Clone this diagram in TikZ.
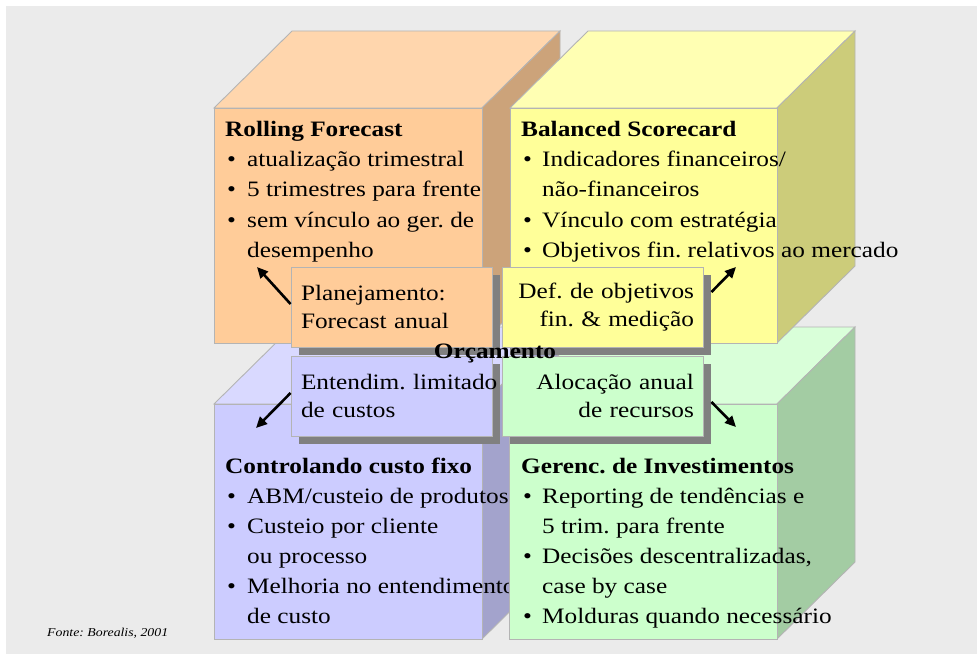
\documentclass[tikz,border=0pt]{standalone}
\usepackage{fontspec}
\setmainfont{Liberation Serif}[FakeStretch=1.15]
\usetikzlibrary{shadows,arrows.meta}
\definecolor{bgc}{HTML}{EBEBEB}
\definecolor{edgec}{HTML}{B4B4B4}
\definecolor{shadc}{HTML}{808080}
\definecolor{ortop}{HTML}{FFD6AD}
\definecolor{orfront}{HTML}{FFCC99}
\definecolor{orside}{HTML}{CCA37A}
\definecolor{yetop}{HTML}{FFFFB3}
\definecolor{yefront}{HTML}{FFFF99}
\definecolor{yeside}{HTML}{CCCC7A}
\definecolor{putop}{HTML}{D9D9FF}
\definecolor{pufront}{HTML}{CCCCFF}
\definecolor{puside}{HTML}{A3A3CC}
\definecolor{grtop}{HTML}{D9FFD9}
\definecolor{grfront}{HTML}{CCFFCC}
\definecolor{grside}{HTML}{A3CCA3}
\newcommand\drawcube[5]{%
  \filldraw[edgeline, fill=#5top] (#1,#2) -- ++(78,-77) -- ++(#3-#1,0) -- (#3,#2) -- cycle;
  \filldraw[edgeline, fill=#5side] (#3,#2) -- ++(78,-77) -- ++(0,#4-#2) -- (#3,#4) -- cycle;
  \filldraw[edgeline, fill=#5front] (#1,#2) rectangle (#3,#4);
}
\frenchspacing
\begin{document}
\begin{tikzpicture}[x=1pt,y=-1pt,
  edgeline/.style={draw=edgec, line width=0.9pt, line join=miter},
  txt/.style={anchor=base west, inner sep=0pt, font=\fontsize{22}{26}\selectfont},
  ttl/.style={anchor=base west, inner sep=0pt, font=\fontsize{22}{26}\selectfont\bfseries},
  bul/.style={anchor=base west, inner sep=0pt, font=\fontsize{22}{26}\selectfont},
  cbox/.style={draw=edgec, line width=0.9pt, minimum width=201pt, minimum height=80pt,
    inner ysep=0pt, font=\fontsize{22}{28.5}\selectfont,
    drop shadow={shadow xshift=8pt, shadow yshift=-8pt, fill=shadc, opacity=1}},
  lbox/.style={cbox, align=left, inner xsep=10pt, text width=181pt},
  rbox/.style={cbox, align=right, inner xsep=9pt, text width=183pt},
  arr/.style={line width=2.6pt, -{Triangle[length=11pt,width=10pt]}}
]
\useasboundingbox (0,0) rectangle (977,655);
\fill[white] (0,0) rectangle (977,655);
\fill[bgc] (6,6) rectangle (977,654);

% bottom-left cube (purple)
\drawcube{214}{404}{482}{639}{pu}
\node[ttl] (pT) at (225,473) {Controlando custo fixo};
\node[bul] (pb1) at (227,503) {•};
\node[txt] (p1) at (247,503) {ABM/custeio de produtos};
\node[bul] (pb2) at (227,533) {•};
\node[txt] (p2) at (247,533) {Custeio por cliente};
\node[txt] (p3) at (247,563) {ou processo};
\node[bul] (pb3) at (227,593) {•};
\node[txt] (p4) at (247,593) {Melhoria no entendimento};
\node[txt] (p5) at (247,623) {de custo};

% bottom-right cube (green)
\drawcube{509}{404}{777}{639}{gr}
\node[ttl] (gT) at (521,473) {Gerenc. de Investimentos};
\node[bul] (gb1) at (523,503) {•};
\node[txt] (g1) at (542,503) {Reporting de tendências e};
\node[txt] (g2) at (542,533) {5 trim. para frente};
\node[bul] (gb2) at (523,563) {•};
\node[txt] (g3) at (542,563) {Decisões descentralizadas,};
\node[txt] (g4) at (542,593) {case by case};
\node[bul] (gb3) at (523,623) {•};
\node[txt] (g5) at (542,623) {Molduras quando necessário};

% top-left cube (orange)
\drawcube{214}{108}{482}{343}{or}
\node[ttl] (oT) at (225,137) {Rolling Forecast};
\node[bul] (ob1) at (227,167) {•};
\node[txt] (o1) at (247,167) {atualização trimestral};
\node[bul] (ob2) at (227,197) {•};
\node[txt] (o2) at (247,197) {5 trimestres para frente};
\node[bul] (ob3) at (227,227) {•};
\node[txt] (o3) at (247,227) {sem vínculo ao ger. de};
\node[txt] (o4) at (247,257) {desempenho};

% top-right cube (yellow)
\drawcube{510}{108}{777}{343}{ye}
\node[ttl] (yT) at (521,137) {Balanced Scorecard};
\node[bul] (yb1) at (523,167) {•};
\node[txt] (y1) at (542,167) {Indicadores financeiros/};
\node[txt] (y2) at (542,197) {não-financeiros};
\node[bul] (yb2) at (523,227) {•};
\node[txt] (y3) at (542,227) {Vínculo com estratégia};
\node[bul] (yb3) at (523,257) {•};
\node[txt] (y4) at (542,257) {Objetivos fin. relativos ao mercado};

% central boxes
\node[lbox, fill=orfront] (plan) at (391.5,307) {Planejamento:\\Forecast anual};
\node[rbox, fill=yefront] (def) at (602.5,307) {Def. de objetivos\\fin. \& medição};
\node[lbox, fill=pufront] (ent) at (391.5,396) {\mbox{Entendim. limitado}\\de custos};
\node[rbox, fill=grfront] (alo) at (602.5,396) {Alocação anual\\de recursos};

% arrows
\coordinate (t1) at (257,267);
\coordinate (t2) at (736,267);
\coordinate (t3) at (256,428);
\coordinate (t4) at (736,427);
\draw[arr] ([yshift=3pt]plan.west) -- (t1);
\draw[arr] ([xshift=8pt,yshift=15pt]def.east) -- (t2);
\draw[arr] ([yshift=3pt]ent.west) -- (t3);
\draw[arr] ([xshift=8pt,yshift=-6pt]alo.east) -- (t4);

\node[font=\fontsize{22}{26}\selectfont\bfseries, inner sep=0pt, anchor=base] (orc) at (495,358) {Orçamento};

\node[anchor=base west, inner sep=0pt, font=\fontsize{12}{14}\selectfont\itshape] (fonte) at (47,636) {Fonte: Borealis, 2001};
\end{tikzpicture}
\end{document}
